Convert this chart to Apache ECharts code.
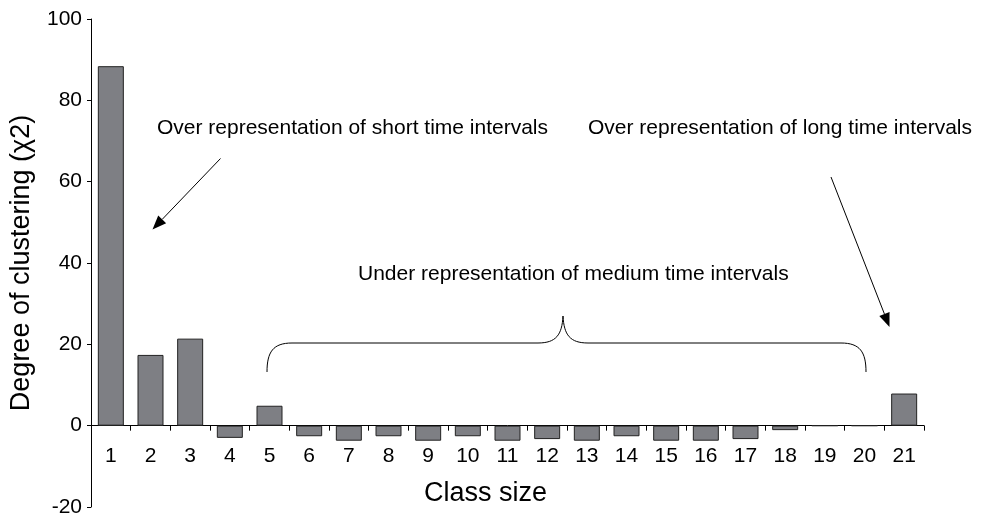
<!DOCTYPE html>
<html>
<head>
<meta charset="utf-8">
<script src="https://cdn.jsdelivr.net/npm/echarts@6/dist/echarts.min.js"></script>
<style>
html,body{margin:0;padding:0;background:#fff;}
#chart{width:982px;height:515px;}
</style>
</head>
<body>
<div id="chart"></div>
<script>
var categories = ['1','2','3','4','5','6','7','8','9','10','11','12','13','14','15','16','17','18','19','20','21'];
var values = [88.4, 17.4, 21.4, -3.0, 4.9, -2.6, -3.7, -2.6, -3.7, -2.6, -3.7, -3.3, -3.7, -2.6, -3.7, -3.7, -3.3, -1.1, 0, 0, 7.9];
var yTicks = {min: -20, max: 100, interval: 20};
var annotations = [
  'Over representation of short time intervals',
  'Over representation of long time intervals',
  'Under representation of medium time intervals'
];

var FONT = '"Liberation Sans", Arial, sans-serif';
var GRID_TOP = 19, GRID_BOTTOM = 8, H = 515;
var plotH = H - GRID_TOP - GRID_BOTTOM;
// shift the x axis from the bottom edge up to the value 0
var zeroOffset = -plotH * (0 - yTicks.min) / (yTicks.max - yTicks.min);

function arrow(x1, y1, x2, y2) {
  var dx = x2 - x1, dy = y2 - y1;
  var len = Math.sqrt(dx * dx + dy * dy);
  var ux = dx / len, uy = dy / len;
  var hl = 14, hw = 5.5;
  var bx = x2 - ux * hl, by = y2 - uy * hl;
  var px = -uy, py = ux;
  return [
    {type: 'line', shape: {x1: x1, y1: y1, x2: bx, y2: by}, style: {stroke: '#000', lineWidth: 1}},
    {type: 'polygon', shape: {points: [[x2, y2], [bx + px * hw, by + py * hw], [bx - px * hw, by - py * hw]]}, style: {fill: '#000'}}
  ];
}
function txt(s, x, y) {
  return {type: 'text', x: x, y: y, style: {text: s, font: '21px ' + FONT, fill: '#000', textAlign: 'left', textVerticalAlign: 'middle'}};
}
function bez(x1, y1, c1x, c1y, c2x, c2y, x2, y2) {
  return {type: 'bezierCurve', shape: {x1: x1, y1: y1, cpx1: c1x, cpy1: c1y, cpx2: c2x, cpy2: c2y, x2: x2, y2: y2}, style: {stroke: '#000', lineWidth: 1, fill: null}};
}
function seg(x1, y1, x2, y2) {
  return {type: 'line', shape: {x1: x1, y1: y1, x2: x2, y2: y2}, style: {stroke: '#000', lineWidth: 1}};
}

var chart = echarts.init(document.getElementById('chart'), null, {renderer: 'canvas'});

var graphics = [];
graphics.push(txt(annotations[0], 157, 128));
graphics.push(txt(annotations[1], 588, 128));
graphics.push(txt(annotations[2], 358, 274));
graphics = graphics.concat(arrow(220.5, 158.5, 152.5, 229.5));
graphics = graphics.concat(arrow(831, 177, 889.5, 327));
// brace
graphics.push(bez(267, 372, 267, 352, 273, 343, 292, 343));
graphics.push(seg(292, 343, 538, 343));
graphics.push(bez(538, 343, 556, 343, 562, 335, 563, 316));
graphics.push(bez(563, 316, 564, 335, 570, 343, 588, 343));
graphics.push(seg(588, 343, 841, 343));
graphics.push(bez(841, 343, 860, 343, 866, 352, 866, 372));

var option = {
  backgroundColor: '#fff',
  animation: false,
  grid: {left: 91, right: 58, top: GRID_TOP, bottom: GRID_BOTTOM, containLabel: false, outerBoundsMode: 'none'},
  xAxis: {
    type: 'category',
    position: 'bottom',
    offset: zeroOffset,
    data: categories,
    boundaryGap: true,
    name: 'Class size',
    nameLocation: 'middle',
    nameGap: 54,
    nameTextStyle: {fontFamily: FONT, fontSize: 27, color: '#000', padding: [0, 44, 0, 0]},
    axisLine: {onZero: false, lineStyle: {color: '#000', width: 1}},
    axisTick: {show: true, alignWithLabel: false, length: 5, lineStyle: {color: '#000'}},
    axisLabel: {fontFamily: FONT, fontSize: 21, color: '#000', margin: 20, interval: 0}
  },
  yAxis: {
    type: 'value',
    min: yTicks.min,
    max: yTicks.max,
    interval: yTicks.interval,
    name: 'Degree of clustering (\u03c72)',
    nameLocation: 'middle',
    nameGap: 56,
    nameTextStyle: {fontFamily: FONT, fontSize: 27, color: '#000'},
    axisLine: {show: true, lineStyle: {color: '#000', width: 1}},
    axisTick: {show: true, length: 4, lineStyle: {color: '#000'}},
    axisLabel: {fontFamily: FONT, fontSize: 21, color: '#000', margin: 9},
    splitLine: {show: false}
  },
  series: [{
    type: 'bar',
    data: values,
    barWidth: 26,
    itemStyle: {color: '#7e7f84', borderColor: '#222', borderWidth: 1}
  }],
  graphic: graphics
};
chart.setOption(option);
</script>
</body>
</html>
